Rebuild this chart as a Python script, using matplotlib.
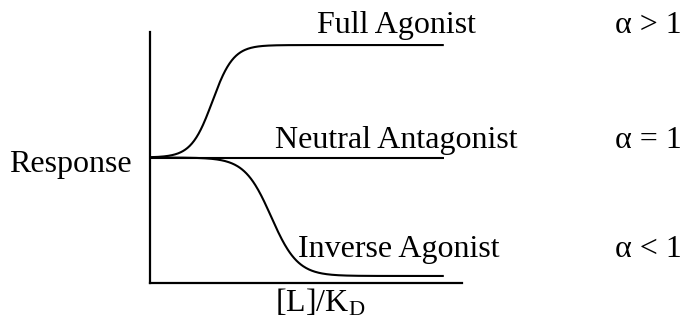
import numpy as np
import matplotlib
matplotlib.use("Agg")
import matplotlib.pyplot as plt

plt.rcParams['font.family'] = ['Liberation Serif', 'DejaVu Serif']
plt.rcParams['mathtext.fontset'] = 'custom'
plt.rcParams['mathtext.rm'] = 'Liberation Serif'
plt.rcParams['mathtext.it'] = 'Liberation Serif:italic'

# log concentration range and curve end
log_min, log_max = 0.0, 6.0
log_end = 5.65

# Hill parameters for each ligand class
basal = 0.5
names = ["Full Agonist", "Neutral Antagonist", "Inverse Agonist"]
alpha_labels = [r"α > 1", r"α = 1", r"α < 1"]
emax = [0.948, 0.5, 0.028]
log_ec50 = [1.20, 2.0, 2.33]
hill_n = [2.15, 1.0, 1.7]

# label anchors (log units, response)
name_pos = [(3.21, 0.996), (2.40, 0.538), (2.85, 0.104)]
alpha_x = 8.94
fs = 23

fig = plt.figure(figsize=(6.85, 3.25), dpi=100)
ax = fig.add_axes([150 / 685, 42 / 325, 312 / 685, 251 / 325])

x = np.linspace(log_min, log_end, 400)
for top, ec, n in zip(emax, log_ec50, hill_n):
    y = basal + (top - basal) / (1 + 10 ** ((ec - x) * n))
    ax.plot(x, y, color='black', lw=1.5, solid_capstyle='butt')

for name, (px, py), lab in zip(names, name_pos, alpha_labels):
    ax.text(px, py, name, fontsize=fs, ha='left', va='baseline', clip_on=False)
    ax.text(alpha_x, py, lab, fontsize=fs, ha='left', va='baseline', clip_on=False)

ax.text(-0.35, 0.442, "Response", fontsize=fs, ha='right', va='baseline')
ax.text(3.27, -0.115, r"[L]/K$_\mathrm{D}$", fontsize=fs, ha='center', va='baseline')

ax.set_xlim(log_min, log_max)
ax.set_ylim(0, 1)
ax.set_xticks([])
ax.set_yticks([])
for side in ['top', 'right']:
    ax.spines[side].set_visible(False)
for side in ['left', 'bottom']:
    ax.spines[side].set_linewidth(1.6)
ax.patch.set_alpha(0)

fig.savefig("out.png", dpi=100)
